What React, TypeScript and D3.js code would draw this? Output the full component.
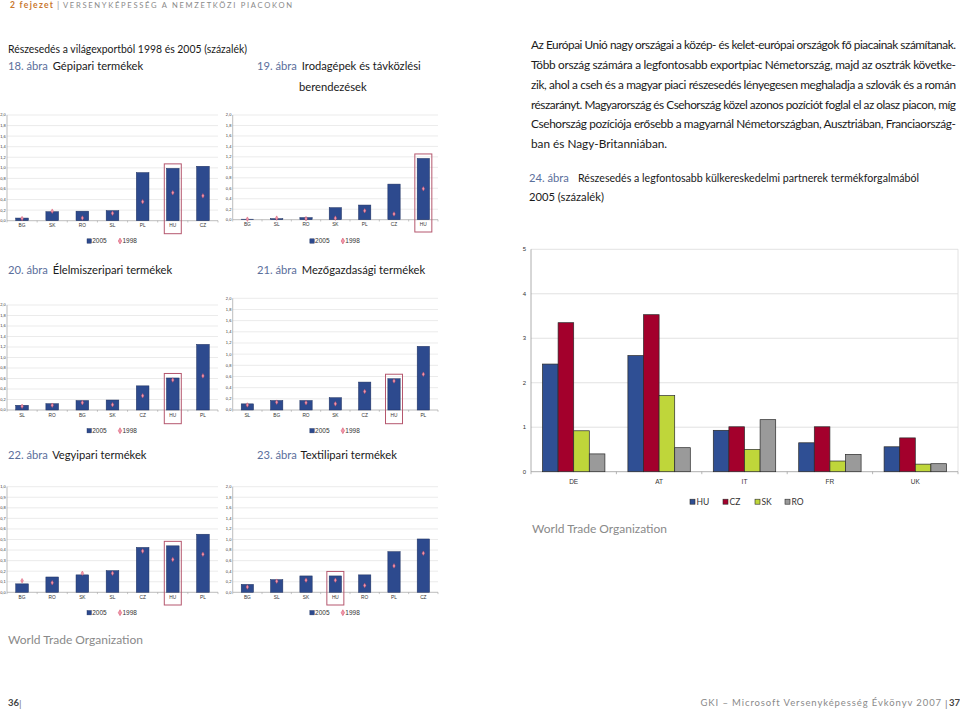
import React from "react";
import * as d3 from "d3";

// ---- Data ----
const cats18 = ["BG", "SK", "RO", "SL", "PL", "HU", "CZ"];
const v2005_18 = [0.05, 0.17, 0.18, 0.19, 0.91, 0.99, 1.03];
const v1998_18 = [0.04, 0.18, 0.05, 0.14, 0.36, 0.53, 0.47];

const cats19 = ["BG", "SL", "RO", "SK", "PL", "CZ", "HU"];
const v2005_19 = [0.01, 0.02, 0.04, 0.23, 0.28, 0.68, 1.17];
const v1998_19 = [0.01, 0.03, 0.02, 0.03, 0.17, 0.11, 0.59];

const cats20 = ["SL", "RO", "BG", "SK", "CZ", "HU", "PL"];
const v2005_20 = [0.09, 0.12, 0.18, 0.19, 0.46, 0.61, 1.25];
const v1998_20 = [0.07, 0.09, 0.14, 0.1, 0.27, 0.57, 0.65];

const cats21 = ["SL", "BG", "RO", "SK", "CZ", "HU", "PL"];
const v2005_21 = [0.11, 0.17, 0.17, 0.22, 0.5, 0.56, 1.14];
const v1998_21 = [0.09, 0.14, 0.13, 0.11, 0.33, 0.52, 0.64];

const cats22 = ["BG", "RO", "SK", "SL", "CZ", "HU", "PL"];
const v2005_22 = [0.08, 0.145, 0.165, 0.205, 0.425, 0.44, 0.55];
const v1998_22 = [0.11, 0.09, 0.18, 0.18, 0.39, 0.31, 0.36];

const cats23 = ["BG", "SL", "SK", "HU", "RO", "PL", "CZ"];
const v2005_23 = [0.15, 0.24, 0.31, 0.31, 0.33, 0.77, 1.01];
const v1998_23 = [0.1, 0.21, 0.23, 0.23, 0.13, 0.5, 0.74];

const partners24 = ["DE", "AT", "IT", "FR", "UK"];
const series24 = ["HU", "CZ", "SK", "RO"];
const hu24 = [2.42, 2.61, 0.93, 0.65, 0.56];
const cz24 = [3.35, 3.53, 1.01, 1.01, 0.76];
const sk24 = [0.92, 1.71, 0.5, 0.24, 0.17];
const ro24 = [0.4, 0.54, 1.17, 0.39, 0.18];
const ticks24 = [0, 1, 2, 3, 4, 5];

const paragraph = [
  "Az Európai Unió nagy országai a közép- és kelet-európai országok fő piacainak számítanak.",
  "Több ország számára a legfontosabb exportpiac Németország, majd az osztrák követke-",
  "zik, ahol a cseh és a magyar piaci részesedés lényegesen meghaladja a szlovák és a román",
  "részarányt. Magyarország és Csehország közel azonos pozíciót foglal el az olasz piacon, míg",
  "Csehország pozíciója erősebb a magyarnál Németországban, Ausztriában, Franciaország-",
  "ban és Nagy-Britanniában.",
];

// ---- Styles ----
const BAR = "#2d4a8e";
const BAR_STROKE = "#1c2f5e";
const HU_BOX = "#b5576e";
const FIG = "#5b6f9c";
const TXT = "#1a1a1a";
const FONT = "Lato, 'Open Sans', sans-serif";
const SMALLFONT = "'Liberation Sans', Arial, sans-serif";
const colors24: Record<string, string> = { HU: "#2f4f94", CZ: "#a3002c", SK: "#bfd63a", RO: "#9a9a9a" };

const fmtComma = (v: number) => d3.format(".1f")(v).replace(".", ",");

type SmallProps = {
  left: number; right: number; top: number; bottom: number;
  max: number; step: number;
  cats: string[]; v05: number[]; v98: number[];
  labelY: number; legendY: number;
};

function SmallChart(p: SmallProps) {
  const { left, right, top, bottom, max, step, cats, v05, v98, labelY, legendY } = p;
  const x = d3.scaleBand<string>().domain(cats).range([left, right]).paddingInner(0.58).paddingOuter(0.29);
  const y = d3.scaleLinear().domain([0, max]).range([bottom, top]);
  const ticks = d3.range(0, Math.round(max / step) + 1).map((i) => +(i * step).toFixed(2));
  const bw = x.bandwidth();
  const st = x.step();
  const diamond = d3.symbol().type(d3.symbolDiamond).size(6)() as string;
  const hi = cats.indexOf("HU");
  const huC = (x("HU") as number) + bw / 2;
  const cx = (left + right) / 2;
  return (
    <g fontFamily={SMALLFONT}>
      {ticks.map((t) => (
        <g key={t}>
          {t > 0 && <line x1={left} x2={right} y1={y(t)} y2={y(t)} stroke="#dedede" strokeWidth={0.6} />}
          <text x={left - 1.3} y={y(t)} dy="0.35em" textAnchor="end" fontSize={4} fill="#333">
            {fmtComma(t)}
          </text>
        </g>
      ))}
      <line x1={left} x2={left} y1={top} y2={bottom} stroke="#a0a0a0" strokeWidth={0.7} />
      <line x1={left} x2={right} y1={bottom} y2={bottom} stroke="#a0a0a0" strokeWidth={0.7} />
      {d3.range(cats.length + 1).map((i) => (
        <line key={i} x1={left + i * st} x2={left + i * st} y1={bottom} y2={bottom + 1.8} stroke="#a0a0a0" strokeWidth={0.6} />
      ))}
      {cats.map((c, i) => (
        <rect key={c} x={x(c)} y={y(v05[i])} width={bw} height={bottom - y(v05[i])} fill={BAR} stroke={BAR_STROKE} strokeWidth={0.5} />
      ))}
      {cats.map((c, i) => (
        <path key={c} d={diamond} transform={`translate(${(x(c) as number) + bw / 2},${y(v98[i])})`} fill="#f09aac" stroke="#d0405e" strokeWidth={0.4} />
      ))}
      {cats.map((c) => (
        <text key={c} x={(x(c) as number) + bw / 2} y={labelY} dy="0.35em" textAnchor="middle" fontSize={4.8} fill="#333">
          {c}
        </text>
      ))}
      {hi >= 0 && (
        <rect x={huC - 8.5} y={y(v05[hi]) - 4.5} width={17} height={labelY + 8 - (y(v05[hi]) - 4.5)} fill="none" stroke={HU_BOX} strokeWidth={1} />
      )}
      <rect x={cx - 25.5} y={legendY - 2.2} width={4.4} height={4.4} fill={BAR} stroke={BAR_STROKE} strokeWidth={0.4} />
      <text x={cx - 20.3} y={legendY} dy="0.35em" fontSize={6.5} fill="#333">2005</text>
      <path d={d3.symbol().type(d3.symbolDiamond).size(10)() as string} transform={`translate(${cx + 7.5},${legendY})`} fill="#f09aac" stroke="#d0405e" strokeWidth={0.5} />
      <text x={cx + 10} y={legendY} dy="0.35em" fontSize={6.5} fill="#333">1998</text>
    </g>
  );
}

function FigTitle({ x, y, num, title }: { x: number; y: number; num: string; title: string }) {
  return (
    <text x={x} y={y} dy="0.35em" fontFamily={FONT} fontSize={11.2} fill={TXT}>
      <tspan fill={FIG}>{num}</tspan>
      <tspan fill={TXT} dx={5}>{title}</tspan>
    </text>
  );
}

function Chart24() {
  const left = 531, right = 958, top = 249.3, bottom = 471.7;
  const x0 = d3.scaleBand<string>().domain(partners24).range([left, right]);
  const x1 = d3.scaleBand<string>().domain(series24).range([0, x0.bandwidth()]).paddingOuter(0.737);
  const y = d3.scaleLinear().domain([0, 5]).range([bottom, top]);
  const vals: Record<string, number[]> = { HU: hu24, CZ: cz24, SK: sk24, RO: ro24 };
  const legX: Record<string, number> = { HU: 690, CZ: 723, SK: 755, RO: 785 };
  return (
    <g fontFamily={SMALLFONT}>
      {ticks24.map((t) => (
        <g key={t}>
          {t > 0 && <line x1={left} x2={right} y1={y(t)} y2={y(t)} stroke="#dadada" strokeWidth={0.8} />}
          <text x={526} y={y(t)} dy="0.35em" textAnchor="end" fontSize={6} fill="#333">{t}</text>
        </g>
      ))}
      <line x1={right} x2={right} y1={top} y2={bottom} stroke="#dadada" strokeWidth={0.8} />
      <line x1={left} x2={left} y1={top} y2={bottom} stroke="#9a9a9a" strokeWidth={0.8} />
      <line x1={left} x2={right} y1={bottom} y2={bottom} stroke="#9a9a9a" strokeWidth={0.8} />
      {d3.range(partners24.length + 1).map((i) => (
        <line key={i} x1={left + i * x0.step()} x2={left + i * x0.step()} y1={bottom} y2={bottom + 2.5} stroke="#9a9a9a" strokeWidth={0.7} />
      ))}
      {partners24.map((p, i) => (
        <g key={p}>
          {series24.map((s) => (
            <rect key={s} x={(x0(p) as number) + (x1(s) as number)} y={y(vals[s][i])} width={x1.bandwidth()} height={bottom - y(vals[s][i])} fill={colors24[s]} stroke="#2a2a2a" strokeWidth={0.7} />
          ))}
          <text x={(x0(p) as number) + x0.bandwidth() / 2} y={481.7} dy="0.35em" textAnchor="middle" fontSize={6.5} fill="#333">{p}</text>
        </g>
      ))}
      {series24.map((s) => (
        <g key={s}>
          <rect x={legX[s]} y={499.2} width={5} height={5} fill={colors24[s]} stroke="#2a2a2a" strokeWidth={0.6} />
          <text x={legX[s] + 6.5} y={501.7} dy="0.35em" fontSize={8.5} fill="#333" fontFamily={FONT}>{s}</text>
        </g>
      ))}
    </g>
  );
}

export default function App() {
  const lineYs = [45, 64.8, 84.6, 104.4, 124.2, 144];
  return (
    <svg width={960} height={710} style={{ position: "absolute", left: 0, top: 0, background: "#fff" }}>
      <rect width={960} height={710} fill="#fff" />
      {/* header */}
      <text x={10} y={5} dy="0.35em" fontFamily={FONT} fontSize={8.5} fontWeight="bold" fill="#c9772e" textLength={43} lengthAdjust="spacing">2 fejezet</text>
      <text x={57} y={5} dy="0.35em" fontFamily={FONT} fontSize={9} fill="#999">|</text>
      <text x={63} y={5} dy="0.35em" fontFamily={FONT} fontSize={7.6} fill="#8a8a8a" textLength={229} lengthAdjust="spacing">VERSENYKÉPESSÉG A NEMZETKÖZI PIACOKON</text>

      {/* left titles */}
      <text x={8} y={49} dy="0.35em" fontFamily={FONT} fontSize={11.2} fill={TXT} textLength={239} lengthAdjust="spacingAndGlyphs">Részesedés a világexportból 1998 és 2005 (százalék)</text>
      <FigTitle x={8} y={66} num="18. ábra" title="Gépipari termékek" />
      <FigTitle x={257} y={66} num="19. ábra" title="Irodagépek és távközlési" />
      <text x={299} y={87} dy="0.35em" fontFamily={FONT} fontSize={11.2} fill={TXT}>berendezések</text>
      <FigTitle x={8} y={270} num="20. ábra" title="Élelmiszeripari termékek" />
      <FigTitle x={257} y={270} num="21. ábra" title="Mezőgazdasági termékek" />
      <FigTitle x={8} y={455} num="22. ábra" title="Vegyipari termékek" />
      <FigTitle x={257} y={455} num="23. ábra" title="Textilipari termékek" />

      <SmallChart left={7} right={218} top={115} bottom={220.7} max={2} step={0.2} cats={cats18} v05={v2005_18} v98={v1998_18} labelY={225.7} legendY={241} />
      <SmallChart left={232.7} right={438} top={115} bottom={219.7} max={2} step={0.2} cats={cats19} v05={v2005_19} v98={v1998_19} labelY={224} legendY={241} />
      <SmallChart left={7} right={218} top={305} bottom={410} max={2} step={0.2} cats={cats20} v05={v2005_20} v98={v1998_20} labelY={415.7} legendY={430.7} />
      <SmallChart left={232.7} right={438} top={298.3} bottom={410} max={2} step={0.2} cats={cats21} v05={v2005_21} v98={v1998_21} labelY={415.7} legendY={430.7} />
      <SmallChart left={7} right={218} top={486.7} bottom={592.3} max={1} step={0.1} cats={cats22} v05={v2005_22} v98={v1998_22} labelY={597} legendY={612.7} />
      <SmallChart left={232.7} right={438} top={486.7} bottom={592.3} max={2} step={0.2} cats={cats23} v05={v2005_23} v98={v1998_23} labelY={597} legendY={612.7} />

      <text x={8} y={640} dy="0.35em" fontFamily={FONT} fontSize={12} fill="#8a8a8a">World Trade Organization</text>

      {/* right paragraph */}
      {paragraph.map((l, i) => (
        <text key={i} x={531} y={lineYs[i]} dy="0.35em" fontFamily={FONT} fontSize={11.8} fill={TXT}
          {...(i < paragraph.length - 1 ? { textLength: 425, lengthAdjust: "spacing" } : {})}>
          {l}
        </text>
      ))}

      <text x={529} y={178} dy="0.35em" fontFamily={FONT} fontSize={11.2} fill={FIG}>24. ábra</text>
      <text x={578} y={178} dy="0.35em" fontFamily={FONT} fontSize={11.2} fill={TXT} textLength={341} lengthAdjust="spacingAndGlyphs">Részesedés a legfontosabb külkereskedelmi partnerek termékforgalmából</text>
      <text x={529} y={197} dy="0.35em" fontFamily={FONT} fontSize={11.2} fill={TXT}>2005 (százalék)</text>

      <Chart24 />

      <text x={532} y={529} dy="0.35em" fontFamily={FONT} fontSize={12} fill="#8a8a8a">World Trade Organization</text>

      {/* footer */}
      <text x={8} y={703} dy="0.35em" fontFamily={FONT} fontSize={9.5} fontWeight="bold" fill="#444">36</text>
      <text x={19} y={703} dy="0.35em" fontFamily={FONT} fontSize={10} fill="#777">|</text>
      <text x={942} y={703} dy="0.35em" textAnchor="end" fontFamily={FONT} fontSize={9.5} fill="#8a8a8a" letterSpacing={0.9}>GKI – Microsoft Versenyképesség Évkönyv 2007</text>
      <text x={945} y={703} dy="0.35em" fontFamily={FONT} fontSize={10} fill="#777">|</text>
      <text x={949} y={703} dy="0.35em" fontFamily={FONT} fontSize={9.5} fontWeight="bold" fill="#444">37</text>
    </svg>
  );
}
